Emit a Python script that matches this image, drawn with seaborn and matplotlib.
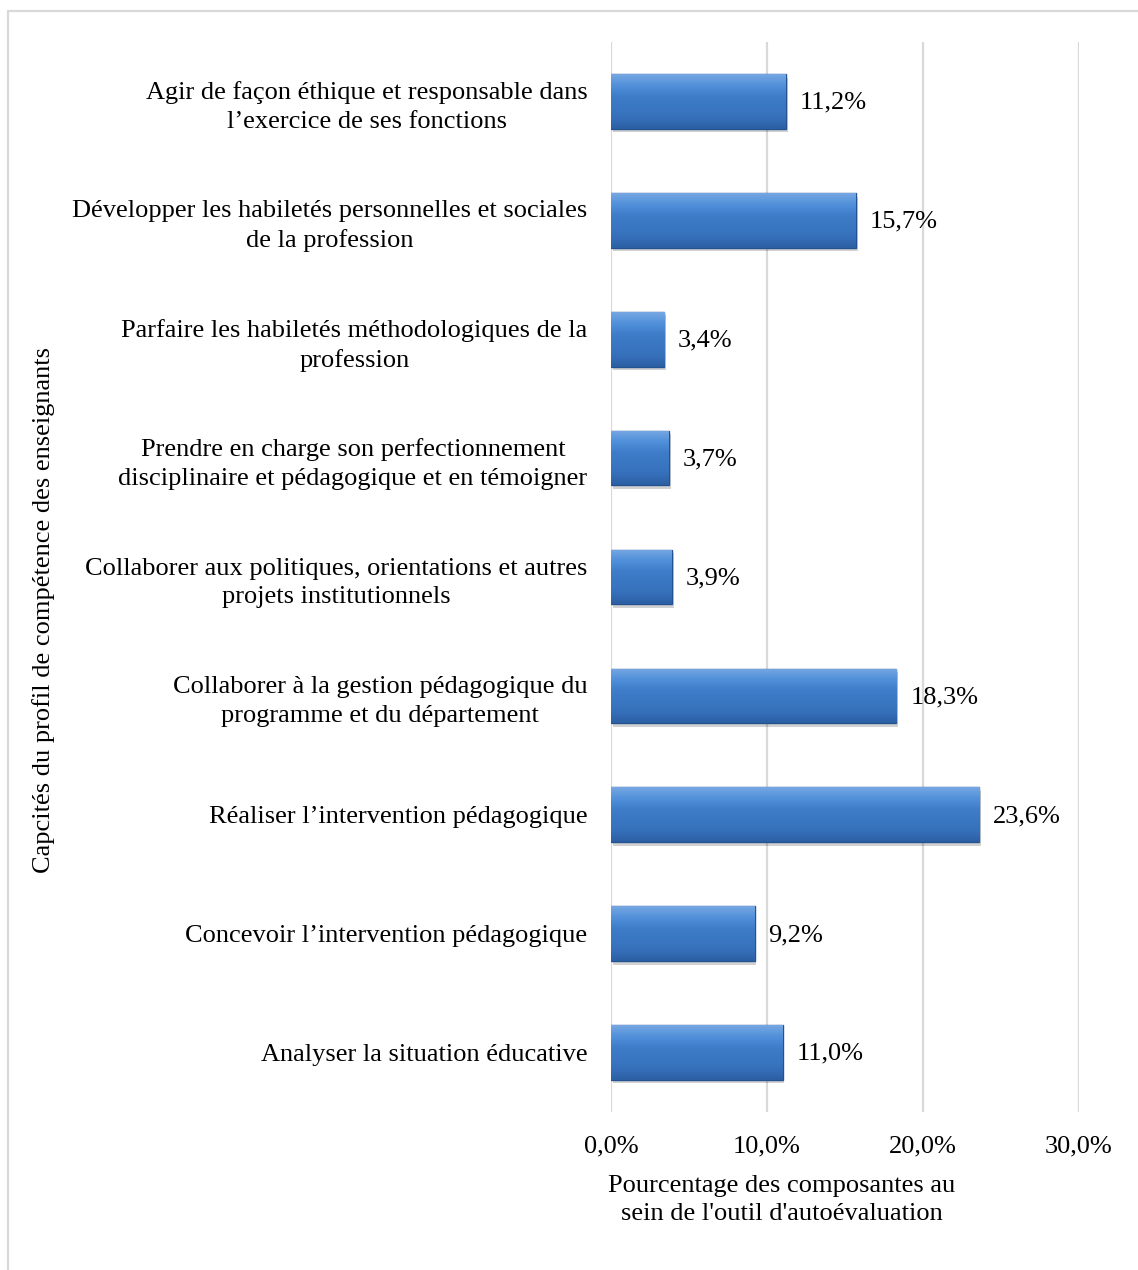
import matplotlib
matplotlib.use("Agg")
import matplotlib.pyplot as plt
import seaborn as sns
import numpy as np
import pandas as pd
from matplotlib.colors import LinearSegmentedColormap
from matplotlib.lines import Line2D

categories = [
    "Agir de façon éthique et responsable dans\nl’exercice de ses fonctions",
    "Développer les habiletés personnelles et sociales\nde la profession",
    "Parfaire les habiletés méthodologiques de la\nprofession",
    "Prendre en charge son perfectionnement\ndisciplinaire et pédagogique et en témoigner",
    "Collaborer aux politiques, orientations et autres\nprojets institutionnels",
    "Collaborer à la gestion pédagogique du\nprogramme et du département",
    "Réaliser l’intervention pédagogique",
    "Concevoir l’intervention pédagogique",
    "Analyser la situation éducative",
]
values = [11.2, 15.7, 3.4, 3.7, 3.9, 18.3, 23.6, 9.2, 11.0]
x_ticks = [0, 10, 20, 30]
x_tick_labels = ["0,0%", "10,0%", "20,0%", "30,0%"]

FS = 19

sns.set_theme(style="white")
plt.rcParams["font.family"] = ["Liberation Serif", "DejaVu Serif"]
plt.rcParams["text.color"] = "black"
plt.rcParams["xtick.color"] = "black"
plt.rcParams["ytick.color"] = "black"

df = pd.DataFrame({"cat": categories, "val": values})

fig = plt.figure(figsize=(11.38, 12.70), dpi=100)
ax = fig.add_axes([611 / 1138, 1 - 1112 / 1270, (1079 - 611) / 1138, (1112 - 42) / 1270])

sns.barplot(data=df, x="val", y="cat", orient="h", color="#3a77c2",
            width=0.46, edgecolor="#24528f", linewidth=1.0, ax=ax, zorder=3,
            saturation=1)

# vertical gradient inside each bar for a bevelled look
grad = LinearSegmentedColormap.from_list(
    "bevel", ["#76a7e2", "#5190da", "#3f7dca", "#3a77c2", "#3670bb", "#2b5fa3"])
for p in ax.patches:
    x0, y0 = p.get_x(), p.get_y()
    w, h = p.get_width(), p.get_height()
    im = ax.imshow(np.linspace(0, 1, 64).reshape(-1, 1), cmap=grad, aspect="auto",
                   extent=[x0, x0 + w, y0 + h, y0], zorder=3.5, interpolation="bicubic")
    im.set_clip_path(p)
    # soft drop shadow
    ax.add_patch(plt.Rectangle((x0 + 0.12, y0 + 0.03), w, h, color="#000000",
                               alpha=0.18, zorder=2.5, lw=0))

for i, v in enumerate(values):
    ax.annotate(f"{v:.1f}%".replace(".", ","), xy=(v, i), xytext=(10, -1),
                textcoords="offset points", va="center", ha="left",
                fontsize=FS, color="#000000")

ax.set_xlim(0, 30)
ax.set_ylim(8.5, -0.5)
ax.set_xticks(x_ticks)
ax.set_xticklabels(x_tick_labels, fontsize=FS)
ax.tick_params(axis="x", length=0, pad=17)
ax.tick_params(axis="y", length=0, pad=17, labelsize=FS)
for lbl in ax.get_yticklabels():
    lbl.set_horizontalalignment("right")
    lbl.set_multialignment("center")
    lbl.set_linespacing(1.38)
ax.xaxis.grid(True, color="#d9d9d9", linewidth=1.6, zorder=0)
ax.yaxis.grid(False)
for s in ax.spines.values():
    s.set_visible(False)
ax.set_xlabel("")
ax.set_ylabel("")

fig.text(44 / 1138, 1 - 610 / 1270, "Capcités du profil de compétence des enseignants",
         rotation=90, ha="center", va="center", fontsize=FS)
fig.text(782 / 1138, 1 - 1200 / 1270,
         "Pourcentage des composantes au\nsein de l'outil d'autoévaluation",
         ha="center", va="center", fontsize=FS, linespacing=1.4)

# chart frame (top and left edges)
fig.add_artist(Line2D([8 / 1138, 1.0], [1 - 11 / 1270, 1 - 11 / 1270],
                      color="#d9d9d9", lw=1.6, transform=fig.transFigure))
fig.add_artist(Line2D([8 / 1138, 8 / 1138], [0, 1 - 11 / 1270],
                      color="#d9d9d9", lw=1.6, transform=fig.transFigure))

fig.savefig("out.png", dpi=100, facecolor="white")
